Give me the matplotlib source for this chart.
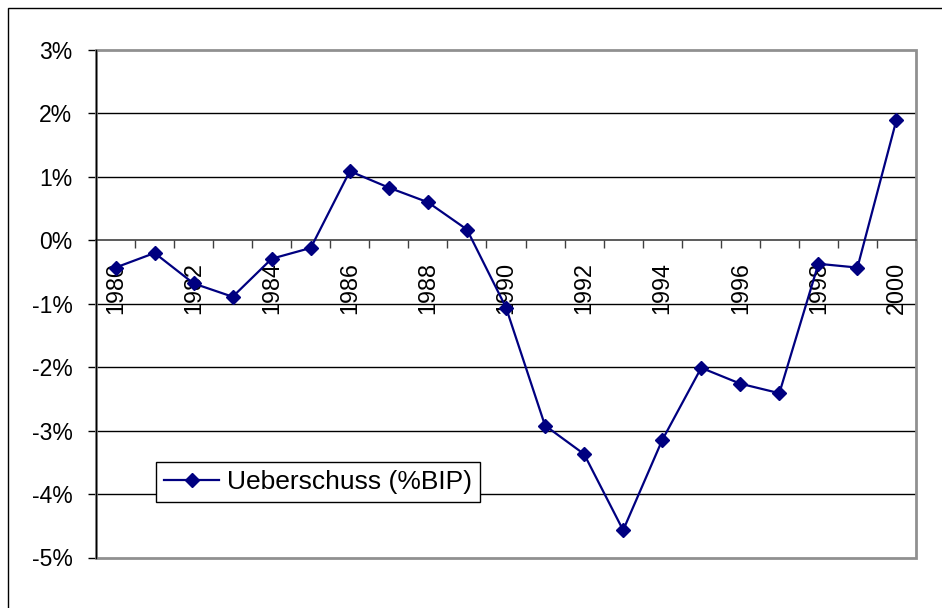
import numpy as np
import matplotlib.pyplot as plt
from matplotlib.patches import Rectangle

plt.rcParams['font.family'] = ['Liberation Sans', 'DejaVu Sans']

# Daten
jahre = list(range(1980, 2001))
ueberschuss = [-0.43, -0.20, -0.68, -0.89, -0.29, -0.12, 1.09, 0.83, 0.60, 0.17,
               -1.06, -2.92, -3.37, -4.57, -3.15, -2.01, -2.26, -2.41, -0.37, -0.43, 1.90]
y_ticks = [-5, -4, -3, -2, -1, 0, 1, 2, 3]

fig = plt.figure(figsize=(9.42, 6.08), dpi=100)
ax = fig.add_axes([96/942, 1 - 557.5/608, (916 - 96)/942, (557.5 - 50)/608])

x = np.arange(len(jahre))
line, = ax.plot(x, ueberschuss, color='#000080', lw=1.6, marker='D', markersize=6.8,
                markerfacecolor='#000080', markeredgecolor='#000080', zorder=5,
                label='Ueberschuss (%BIP)')

ax.set_xlim(-0.5, len(jahre) - 0.5)
ax.set_ylim(-5, 3)

# horizontale Gitterlinien
for v in y_ticks[1:-1]:
    if v != 0:
        ax.axhline(v, color='black', lw=1.0, zorder=1)

# Rahmen der Zeichenfläche (grau)
ax.add_patch(Rectangle((0, 0), 1, 1, transform=ax.transAxes, fill=False,
                       edgecolor='#909090', lw=2, zorder=2, clip_on=False))

for s in ['top', 'right']:
    ax.spines[s].set_visible(False)
ax.spines['left'].set_color('black')
ax.spines['left'].set_linewidth(1.0)
ax.spines['left'].set_zorder(3)
ax.spines['bottom'].set_position(('data', 0))
ax.spines['bottom'].set_color('#404040')
ax.spines['bottom'].set_linewidth(1.2)

# y-Achse
ax.set_yticks(y_ticks)
ax.set_yticklabels([f'{v}%' for v in y_ticks], fontsize=16.5)
ax.tick_params(axis='y', direction='out', length=6, width=1, pad=11, color='black')

# x-Achse: Striche an den Kategoriegrenzen, Beschriftung jedes zweite Jahr
ax.set_xticks(np.arange(-0.5, len(jahre), 1), minor=True)
ax.set_xticks(x[::2])
ax.set_xticklabels([str(j) for j in jahre[::2]], rotation=90, fontsize=16.8)
ax.tick_params(axis='x', which='minor', direction='out', length=6, width=1, color='#404040')
ax.tick_params(axis='x', which='major', length=0, pad=15.5)
for lbl in ax.get_xticklabels():
    lbl.set_verticalalignment('top')

leg = ax.legend(loc='upper left', bbox_to_anchor=(156/942, 1 - 462/608),
                bbox_transform=fig.transFigure, borderaxespad=0, fontsize=19,
                fancybox=False, framealpha=1, edgecolor='black',
                handlelength=2.1, handletextpad=0.3, borderpad=0.3)
leg.get_frame().set_linewidth(1.0)

# äußerer Rahmen
fig.add_artist(Rectangle((8/942, -0.1), 1.2, 1 - 8/608 + 0.1, transform=fig.transFigure,
                         fill=False, edgecolor='black', lw=1.0))

fig.savefig('out.png', dpi=100)
